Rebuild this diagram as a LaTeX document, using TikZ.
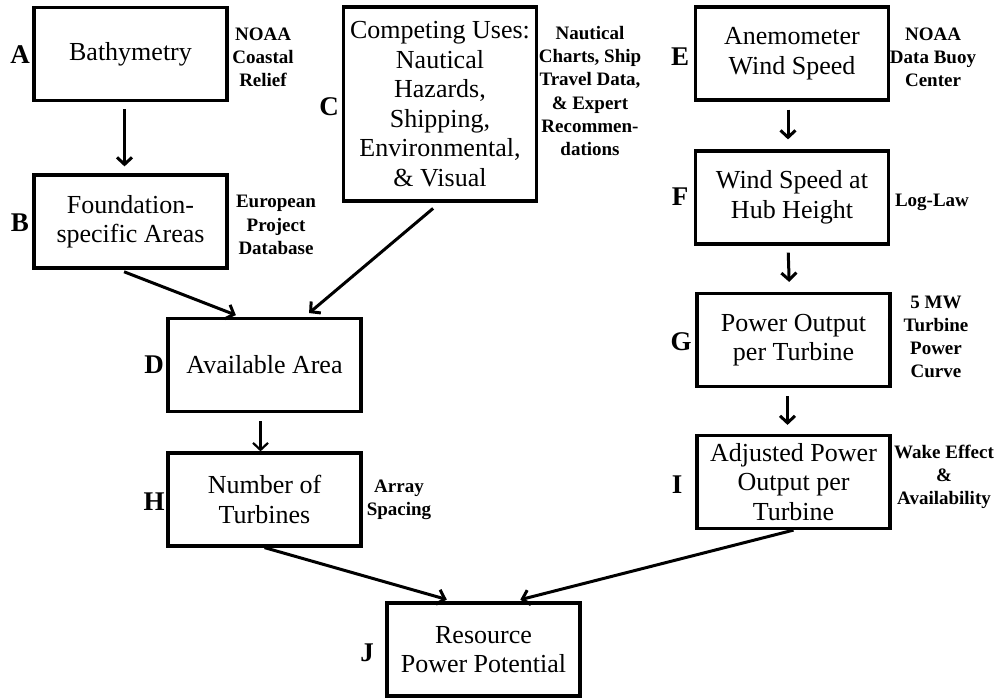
\documentclass[tikz,border=0pt]{standalone}
\usepackage{fontspec}
\setmainfont{Liberation Serif}
\usetikzlibrary{arrows.meta}

\tikzset{
  box/.style={draw, line width=1.6pt, minimum width=96.5pt, minimum height=46.5pt,
    inner sep=1pt, align=center, font=\fontsize{13}{14.75}\selectfont},
  note/.style={align=center, inner sep=0pt, font=\bfseries\fontsize{9.5}{11.6}\selectfont},
  tag/.style={inner sep=0pt, font=\bfseries\fontsize{13.5}{15}\selectfont},
  flow/.style={line width=1.5pt, -{Straight Barb[length=3.5pt, width=7.5pt]}},
}

\begin{document}
\begin{tikzpicture}[x=0.5pt, y=-0.5pt]
      \useasboundingbox (0,0) rectangle (995,697);
      \node[box] (bathy) at (130.5,54) {Bathymetry};
      \node[box] (found) at (130.5,221.5) {Foundation-\\specific Areas};
      \node[box, minimum height=97pt] (uses) at (440,104) {Competing Uses:\\Nautical\\Hazards,\\Shipping,\\Environmental,\\\& Visual};
      \node[box] (anemo) at (792,53.5) {Anemometer\\Wind Speed};
      \node[box] (hubws) at (792,197.5) {Wind Speed at\\Hub Height};
      \node[box] (power) at (793.5,340) {Power Output\\per Turbine};
      \node[box] (adjpow) at (793.5,482) {Adjusted Power\\Output per\\Turbine};
      \node[box] (area) at (264.5,365) {Available Area};
      \node[box] (nturb) at (264.5,499.5) {Number of\\Turbines};
      \node[box] (resource) at (483.5,649.5) {Resource\\Power Potential};

      \node[tag] (tagA) at (20,55) {A};
      \node[tag] (tagB) at (20,223) {B};
      \node[tag] (tagC) at (329,107) {C};
      \node[tag] (tagD) at (154,365) {D};
      \node[tag] (tagE) at (680,57) {E};
      \node[tag] (tagF) at (680,197) {F};
      \node[tag] (tagG) at (681,342) {G};
      \node[tag] (tagH) at (154,502) {H};
      \node[tag] (tagI) at (677,485) {I};
      \node[tag] (tagJ) at (367,653) {J};

      \node[note] (srcA) at (263,57) {NOAA\\Coastal\\Relief};
      \node[note] (srcB) at (276,225) {European\\Project\\Database};
      \node[note] (srcC) at (590,91) {Nautical\\Charts, Ship\\Travel Data,\\\& Expert\\Recommen-\\dations};
      \node[note] (srcE) at (933,57) {NOAA\\Data Buoy\\Center};
      \node[note] (srcF) at (932,202) {Log-Law};
      \node[note] (srcG) at (936,337) {5 MW\\Turbine\\Power\\Curve};
      \node[note] (srcH) at (399,500) {Array\\Spacing};
      \node[note] (srcI) at (944,477) {Wake Effect\\\&\\Availability};

      \draw[flow, shorten <=3.5pt, shorten >=3.5pt] ([xshift=-3pt]bathy.south) -- ([xshift=-3pt]found.north);
      \draw[flow, shorten <=3pt, shorten >=2.5pt] ([xshift=-6pt]found.south) -- ([xshift=-12pt]area.north);
      \draw[flow, shorten <=4.5pt, shorten >=3pt] (uses.south) -- ([xshift=20pt]area.north);
      \draw[flow, line width=1.1pt, shorten <=4pt] ([xshift=-2pt]area.south) -- ([xshift=-2pt]nturb.north);
      \draw[flow, shorten <=4pt, shorten >=5pt] ([xshift=-2pt]anemo.south) -- ([xshift=-2pt]hubws.north);
      \draw[flow, shorten <=3.5pt, shorten >=5pt] ([xshift=-2pt]hubws.south) -- ([xshift=-2pt]power.north);
      \draw[flow, shorten <=4pt, shorten >=4.5pt] ([xshift=-3pt]power.south) -- ([xshift=-3pt]adjpow.north);
      \draw[flow, shorten >=3.5pt] (nturb.south) -- ([xshift=-15pt]resource.north);
      \draw[flow, shorten >=3.5pt] (adjpow.south) -- ([xshift=15pt]resource.north);
\end{tikzpicture}
\end{document}
